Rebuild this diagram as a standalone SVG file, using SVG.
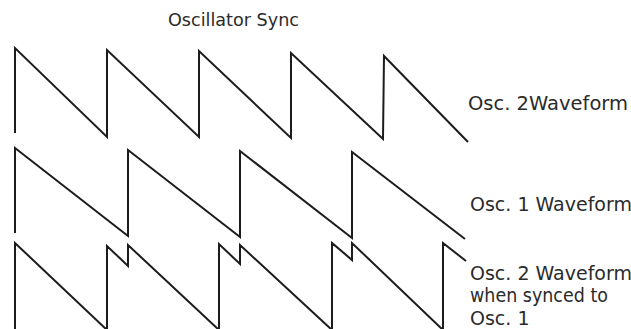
<svg xmlns="http://www.w3.org/2000/svg" width="631" height="329" viewBox="0 0 631 329">
<style>
.wave{fill:none;stroke:#1c1c1c;stroke-width:2;stroke-linejoin:miter;stroke-linecap:butt}
.lbl{font-family:"DejaVu Sans","Liberation Sans",sans-serif;fill:#2b2b2b}
</style>
<rect width="631" height="329" fill="#ffffff"/>
<g id="title"><text class="lbl" x="168" y="26" font-size="18" textLength="131" lengthAdjust="spacingAndGlyphs">Oscillator Sync</text></g>
<g id="osc2">
<polyline class="wave" points="15,133 15,48 107,137 107,50 199,137 199,51 291,138 291,53 383,139 384,56 468,142"/>
<text class="lbl" x="468" y="110" font-size="19" textLength="160" lengthAdjust="spacingAndGlyphs">Osc. 2Waveform</text>
</g>
<g id="osc1">
<polyline class="wave" points="15,233 15,148 128,236 128,150 240,237 240,151 352,238 352,152 465,239"/>
<text class="lbl" x="470" y="211" font-size="19">Osc. 1 Waveform</text>
</g>
<g id="synced">
<polyline class="wave" points="15,331 15,243 107,330 107,246 128,266 128,245 219,330 219,244 240,264 240,245 332,330 332,243 352,260 352,243 443,330 443,243 466,261"/>
<text class="lbl" x="470" y="280" font-size="19">Osc. 2 Waveform</text>
<text class="lbl" x="470" y="302" font-size="19" textLength="138" lengthAdjust="spacingAndGlyphs">when synced to</text>
<text class="lbl" x="470" y="325" font-size="19">Osc. 1</text>
</g>
</svg>
